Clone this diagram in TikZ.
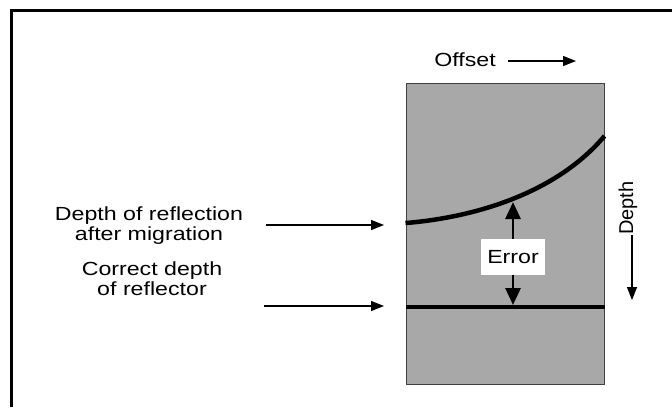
\documentclass[tikz,border=0pt]{standalone}
\usepackage{fontspec}
\setmainfont[FakeStretch=1.22]{Liberation Sans}
\newfontfamily\uprightlabel{Liberation Sans}
\usetikzlibrary{arrows.meta}
\begin{document}
\begin{tikzpicture}[x=1pt,y=-1pt,
    lbl/.style={font=\fontsize{19}{20}\selectfont, inner sep=0pt, align=center},
    pointer/.style={line width=1.4pt, -{Triangle[length=13pt,width=10pt]}},
    errarrow/.style={line width=2.8pt, -{Triangle[length=17pt,width=15pt]}},
    layer/.style={fill=black!34, draw=black!75, line width=1pt}]
  \useasboundingbox (0,0) rectangle (672,407);
  % outer frame (left and top edges)
  \draw[line width=3pt] (11,407) -- (11,10) -- (672,10);

  % subsurface section
  \node[layer, minimum width=198pt, minimum height=301pt, inner sep=0pt] (sect) at (505,233.5) {};

  % migrated reflection and true reflector
  \coordinate (c0) at (sect.west |- 0,223);
  \coordinate (c1) at (sect.east |- 0,136);
  \coordinate (r0) at (sect.west |- 0,307);
  \coordinate (r1) at (sect.east |- 0,307);
  \draw[line width=4.5pt] (c0) .. controls (470,218) and (555,195) .. (c1);
  \draw[line width=4pt] (r0) -- (r1);

  % error annotation
  \node[lbl, fill=white, minimum width=64pt, minimum height=36pt] (err) at (513,257) {Error};
  \coordinate (errtop) at (513,202);
  \coordinate (errbot) at (513,305);
  \draw[errarrow] (err.north) -- (errtop);
  \draw[errarrow] (err.south) -- (errbot);

  % axis labels
  \node[lbl, anchor=east] (off) at (496,60) {Offset};
  \coordinate (offstart) at (508,61);
  \coordinate (offend) at (576,61);
  \draw[pointer] (offstart) -- (offend);

  \node[inner sep=0pt, font=\uprightlabel\fontsize{20}{21}\selectfont, rotate=90] (dep) at (628,208) {Depth};
  \coordinate (depstart) at (632,235);
  \coordinate (depend) at (632,300);
  \draw[pointer] (depstart) -- (depend);

  % side labels
  \node[lbl] (mig) at (149,226) {Depth of reflection\\after migration};
  \coordinate (migA) at (266,225);
  \coordinate (migB) at (384,225);
  \draw[pointer] (migA) -- (migB);

  \node[lbl] (true) at (152,279) {Correct depth\\of reflector};
  \coordinate (trueA) at (264,306);
  \coordinate (trueB) at (384,306);
  \draw[pointer] (trueA) -- (trueB);
\end{tikzpicture}
\end{document}
